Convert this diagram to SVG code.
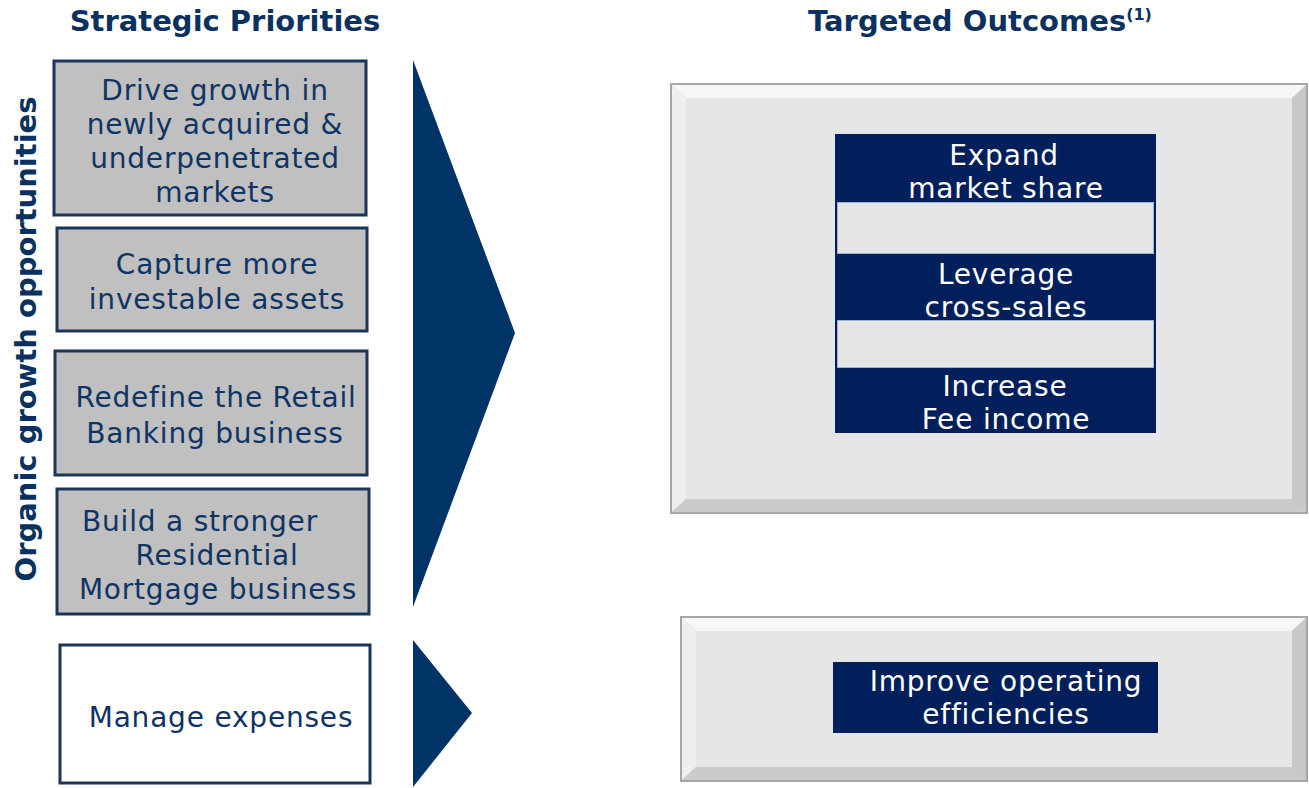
<svg xmlns="http://www.w3.org/2000/svg" width="1309" height="788" viewBox="0 0 1309 788">
<defs>
<style>
.title{font-family:"DejaVu Sans",Verdana,sans-serif;font-weight:bold;font-size:29px;fill:#0b3160}
.pri{font-family:"DejaVu Sans",Verdana,sans-serif;font-size:28px;letter-spacing:0.8px;fill:#0f3464;text-anchor:middle}
.out{font-family:"DejaVu Sans",sans-serif;font-size:28px;letter-spacing:0.8px;fill:#ffffff;text-anchor:middle}
.gbox{fill:#c0c0c0;stroke:#1c3557;stroke-width:3}
.wbox{fill:#ffffff;stroke:#1c3557;stroke-width:3}
.arrow{fill:#003366}
.navy{fill:#001f5b}
.band{fill:#e6e6e6;stroke:#9db3d6;stroke-width:1}
.bvT{fill:#f7f7f7}.bvL{fill:#efefef}.bvR{fill:#c8c8c8}.bvB{fill:#cbcbcb}
.face{fill:#e6e6e6}
.frame{fill:none;stroke:#a6a6a6;stroke-width:2}
</style>
</defs>
<rect width="1309" height="788" fill="#ffffff"/>

<g id="titles">
<text class="title" x="225" y="31" text-anchor="middle">Strategic Priorities</text>
<text class="title" x="808" y="31">Targeted Outcomes<tspan font-size="16" dy="-11">(1)</tspan></text>
</g>

<g id="side-label">
<text class="title" transform="translate(36,339) rotate(-90)" text-anchor="middle" font-size="27.5">Organic growth opportunities</text>
</g>

<g id="p1">
<rect class="gbox" x="54" y="61" width="312" height="154"/>
<text class="pri" x="215" y="100">Drive growth in</text>
<text class="pri" x="215" y="134">newly acquired &amp;</text>
<text class="pri" x="215" y="168">underpenetrated</text>
<text class="pri" x="215" y="202">markets</text>
</g>
<g id="p2">
<rect class="gbox" x="57" y="228" width="310" height="103"/>
<text class="pri" x="217" y="274">Capture more</text>
<text class="pri" x="217" y="309">investable assets</text>
</g>
<g id="p3">
<rect class="gbox" x="55" y="351" width="312" height="124"/>
<text class="pri" x="216" y="407">Redefine the Retail</text>
<text class="pri" x="215" y="443">Banking business</text>
</g>
<g id="p4">
<rect class="gbox" x="57" y="489" width="312" height="125"/>
<text class="pri" x="200" y="531">Build a stronger</text>
<text class="pri" x="217" y="565">Residential</text>
<text class="pri" x="218" y="599">Mortgage business</text>
</g>
<g id="p5">
<rect class="wbox" x="60" y="645" width="310" height="138"/>
<text class="pri" x="221" y="727">Manage expenses</text>
</g>

<g id="connectors">
<polygon class="arrow" points="413,60 515,333 413,607"/>
<polygon class="arrow" points="413,640 472,713 413,787"/>
</g>

<g id="outcomes-growth">
<rect x="670" y="83" width="638" height="431" fill="#d0d0d0"/>
<polygon class="bvT" points="672,85 1306,85 1292,98 686,98"/>
<polygon class="bvL" points="672,85 686,98 686,499 672,512"/>
<polygon class="bvR" points="1306,85 1306,512 1292,499 1292,98"/>
<polygon class="bvB" points="672,512 1306,512 1292,499 686,499"/>
<rect class="face" x="686" y="98" width="606" height="401"/>
<rect class="frame" x="671" y="84" width="636" height="429"/>
<rect class="navy" x="835" y="134" width="321" height="299"/>
<rect class="band" x="837.5" y="202.5" width="316" height="51"/>
<rect class="band" x="837.5" y="320.5" width="316" height="47"/>
<text class="out" x="1004" y="165">Expand</text>
<text class="out" x="1006" y="198">market share</text>
<text class="out" x="1006" y="284">Leverage</text>
<text class="out" x="1006" y="317">cross-sales</text>
<text class="out" x="1005" y="396">Increase</text>
<text class="out" x="1006" y="429">Fee income</text>
</g>

<g id="outcomes-expense">
<rect x="680" y="616" width="628" height="166" fill="#d0d0d0"/>
<polygon class="bvT" points="682,618 1306,618 1292,631 696,631"/>
<polygon class="bvL" points="682,618 696,631 696,767 682,780"/>
<polygon class="bvR" points="1306,618 1306,780 1292,767 1292,631"/>
<polygon class="bvB" points="682,780 1306,780 1292,767 696,767"/>
<rect class="face" x="696" y="631" width="596" height="136"/>
<rect class="frame" x="681" y="617" width="626" height="164"/>
<rect class="navy" x="833" y="662" width="325" height="71"/>
<text class="out" x="1006" y="691">Improve operating</text>
<text class="out" x="1006" y="724">efficiencies</text>
</g>
</svg>
